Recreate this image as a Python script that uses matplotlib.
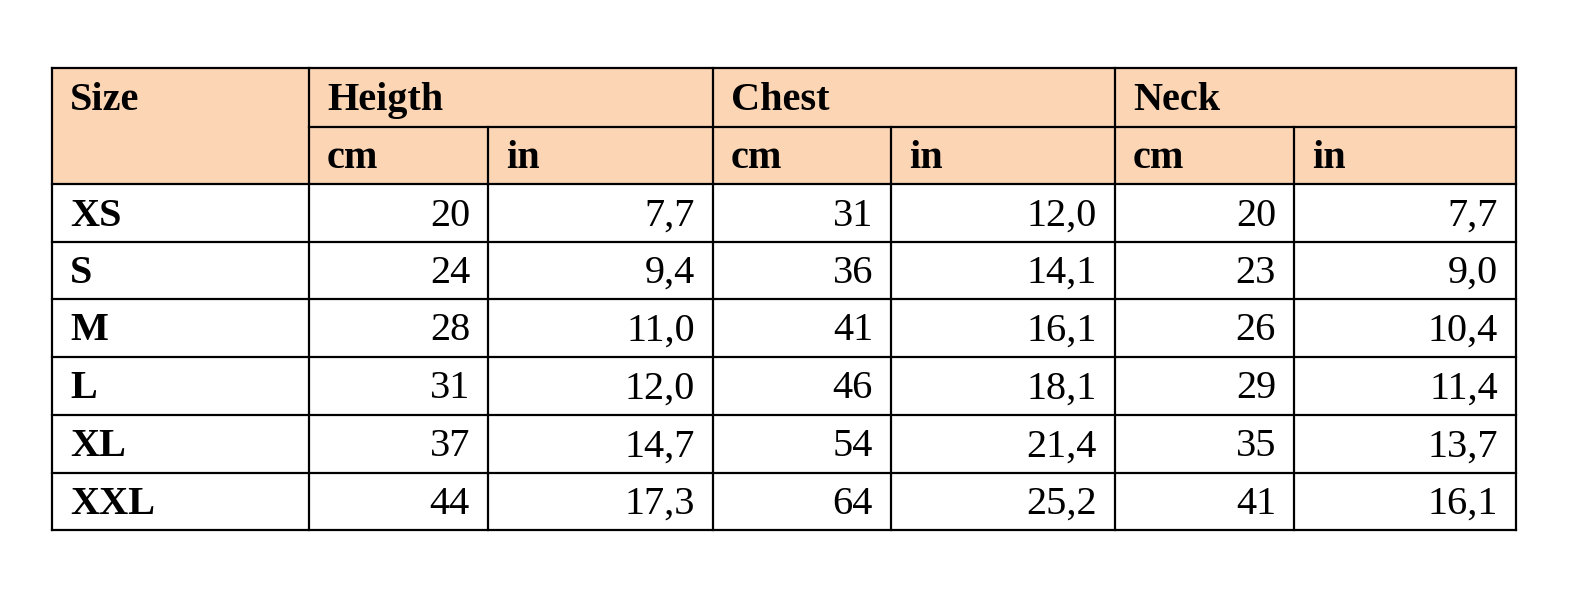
import matplotlib.pyplot as plt

# === DATA ===
sizes = ['XS', 'S', 'M', 'L', 'XL', 'XXL']
groups = ['Heigth', 'Chest', 'Neck']
units = ['cm', 'in']
height_cm = ['20', '24', '28', '31', '37', '44']
height_in = ['7,7', '9,4', '11,0', '12,0', '14,7', '17,3']
chest_cm = ['31', '36', '41', '46', '54', '64']
chest_in = ['12,0', '14,1', '16,1', '18,1', '21,4', '25,2']
neck_cm = ['20', '23', '26', '29', '35', '41']
neck_in = ['7,7', '9,0', '10,4', '11,4', '13,7', '16,1']

# === LAYOUT (pixels) ===
col_x = [52, 309, 488, 713, 891, 1115, 1294, 1516]
row_y = [68, 127, 184, 242, 299, 357, 415, 473, 530]
PEACH = '#fcd5b5'
FS = 29
PAD = 18

plt.rcParams['font.family'] = ['Liberation Serif', 'DejaVu Serif']
fig = plt.figure(figsize=(15.88, 6.11), dpi=100)
ax = fig.add_axes([0, 0, 1, 1])
ax.set_xlim(0, 1588)
ax.set_ylim(611, 0)
ax.axis('off')

# header fill
ax.add_patch(plt.Rectangle((col_x[0], row_y[0]), col_x[-1] - col_x[0],
                           row_y[2] - row_y[0], color=PEACH, lw=0))

lw = 1.6
# horizontal lines
ax.plot([col_x[0], col_x[-1]], [row_y[0]] * 2, color='black', lw=lw)
ax.plot([col_x[1], col_x[-1]], [row_y[1]] * 2, color='black', lw=lw)
for y in row_y[2:]:
    ax.plot([col_x[0], col_x[-1]], [y, y], color='black', lw=lw)
# vertical lines
for i, x in enumerate(col_x):
    top = row_y[0] if i in (0, 1, 3, 5, 7) else row_y[1]
    ax.plot([x, x], [top, row_y[-1]], color='black', lw=lw)


def cy(r):
    return (row_y[r] + row_y[r + 1]) / 2 + 3


ax.text(col_x[0] + PAD, cy(0), 'Size', fontsize=FS, fontweight='bold', va='center')
for g, name in enumerate(groups):
    ax.text(col_x[1 + 2 * g] + PAD, cy(0), name, fontsize=FS, fontweight='bold', va='center')
    for u, unit in enumerate(units):
        ax.text(col_x[1 + 2 * g + u] + PAD, cy(1), unit, fontsize=FS,
                fontweight='bold', va='center')

columns = [height_cm, height_in, chest_cm, chest_in, neck_cm, neck_in]
for r, s in enumerate(sizes):
    ax.text(col_x[0] + PAD, cy(r + 2), s, fontsize=FS, fontweight='bold', va='center')
    for c, vals in enumerate(columns):
        ax.text(col_x[c + 2] - PAD, cy(r + 2), vals[r], fontsize=FS,
                ha='right', va='center')

fig.savefig('out.png', dpi=100, facecolor='white')
